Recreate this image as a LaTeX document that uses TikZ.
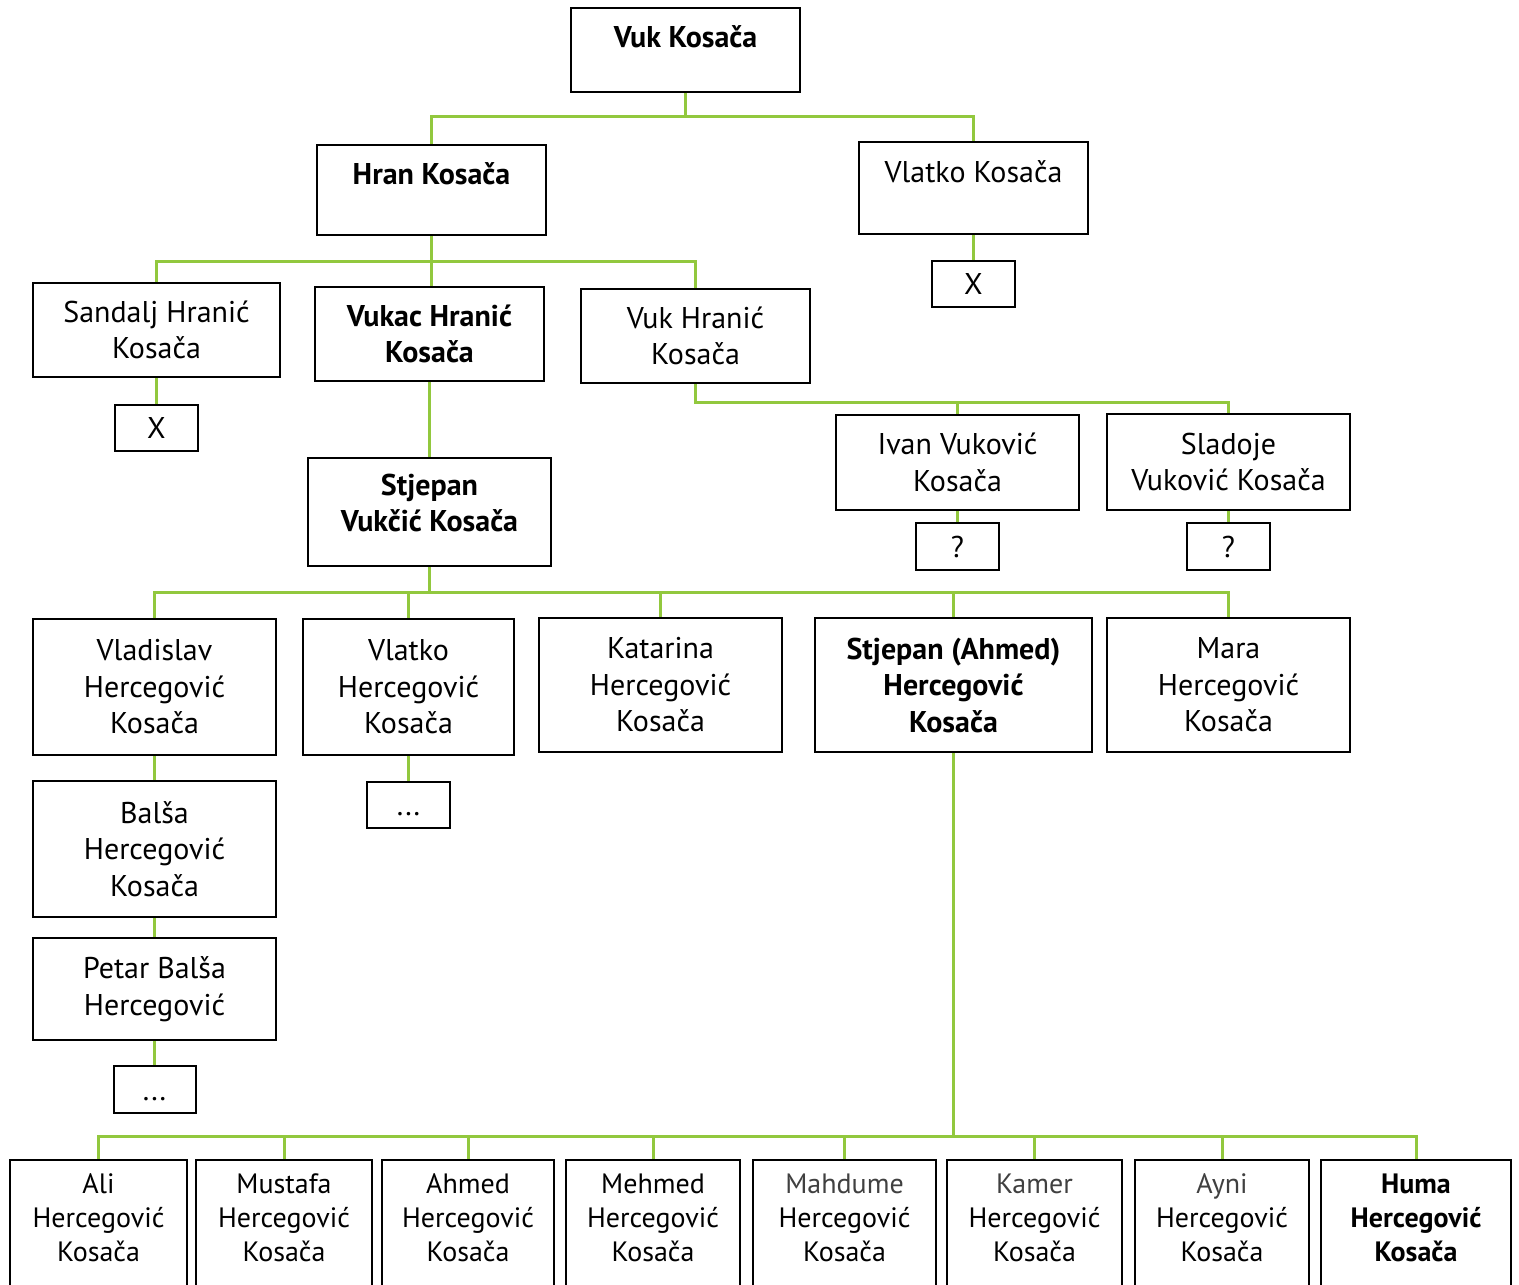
\documentclass[tikz,border=0pt]{standalone}
\usepackage{fontspec}
\setmainfont{PT Sans}
\usetikzlibrary{positioning}
\definecolor{linkgreen}{RGB}{146,200,62}

\begin{document}
\begin{tikzpicture}[x=0.5pt, y=-0.5pt,
    box/.style 2 args={draw, line width=1pt, inner sep=0pt, align=center,
      minimum width=#1*0.5pt, minimum height=#2*0.5pt,
      font=\fontsize{15}{18.25}\selectfont},
    boldbox/.style 2 args={box={#1}{#2}, font=\fontsize{15}{18.25}\selectfont\bfseries},
    kid/.style={box={#1}{150}, font=\fontsize{14}{17}\selectfont},
    dots/.style={text height=10.5pt, text depth=0pt},
    link/.style={draw=linkgreen, line width=1.5pt}]
  \path [use as bounding box, fill=white] (0,0) rectangle (1519,1284);

  % Vuk and his sons
  \node (vuk) [boldbox={229}{84}, text depth=13pt] at (685.5,50) {Vuk Kosača};
  \node (hran) [boldbox={229}{90}, text depth=16pt] at (431.5,190) {Hran Kosača};
  \node (vlatko) [box={229}{92}, text depth=16pt] at (973.5,188) {Vlatko Kosača};
  \node (vlatkox) [box={83}{46}, below=12.5pt of vlatko] {X};

  % Hran's sons
  \node (sandalj) [box={247}{94}] at (156.5,330) {Sandalj Hranić\\Kosača};
  \node (vukac) [boldbox={229}{94}] at (429.5,334) {Vukac Hranić\\Kosača};
  \node (vukhranic) [box={229}{94}] at (695.5,336) {Vuk Hranić\\Kosača};
  \node (sandaljx) [box={83}{46}, below=13pt of sandalj] {X};
  \node (stjepan) [boldbox={243}{108}, below=37.5pt of vukac] {Stjepan\\Vukčić Kosača\\[-9pt]~};
  \node (ivan) [box={243}{95}] at (957.5,462.5) {Ivan Vuković\\Kosača};
  \node (sladoje) [box={243}{96}] at (1228.5,462) {Sladoje\\Vuković Kosača};
  \node (ivanq) [box={83}{47}, below=5.5pt of ivan] {?};
  \node (sladojeq) [box={83}{47}, below=5.5pt of sladoje] {?};

  % Stjepan's children
  \node (vladislav) [box={243}{136}] at (154.5,687) {Vladislav\\Hercegović\\Kosača};
  \node (vlatkohk) [box={211}{136}] at (408.5,687) {Vlatko\\Hercegović\\Kosača};
  \node (katarina) [box={243}{134}] at (660.5,685) {Katarina\\Hercegović\\Kosača};
  \node (ahmed) [boldbox={277}{134}] at (953.5,685) {Stjepan (Ahmed)\\Hercegović\\Kosača};
  \node (mara) [box={243}{134}] at (1228.5,685) {Mara\\Hercegović\\Kosača};
  \node (balsa) [box={243}{136}, below=12pt of vladislav] {Balša\\Hercegović\\Kosača};
  \node (petar) [box={243}{102}, below=9.5pt of balsa] {Petar Balša\\Hercegović};
  \node (petardots) [box={82}{47}, dots, below=12pt of petar] {...};
  \node (vlatkodots) [box={83}{46}, dots, below=12.5pt of vlatkohk] {...};

  % Ahmed's children
  \node (ali) [kid=177] at (98.5,1235) {Ali\\Hercegović\\Kosača\\~};
  \node (mustafa) [kid=176, right=3.5pt of ali] {Mustafa\\Hercegović\\Kosača\\~};
  \node (ahmedh) [kid=172, right=4pt of mustafa] {Ahmed\\Hercegović\\Kosača\\~};
  \node (mehmed) [kid=174, right=5pt of ahmedh] {Mehmed\\Hercegović\\Kosača\\~};
  \node (mahdume) [kid=183, right=5.5pt of mehmed] {{\color{black!75}Mahdume}\\Hercegović\\Kosača\\~};
  \node (kamer) [kid=175, right=4.5pt of mahdume] {{\color{black!75}Kamer}\\Hercegović\\Kosača\\~};
  \node (ayni) [kid=174, right=5.5pt of kamer] {{\color{black!75}Ayni}\\Hercegović\\Kosača\\~};
  \node (huma) [kid=190, right=5pt of ayni, font=\fontsize{14}{17}\selectfont\bfseries] {Huma\\Hercegović\\Kosača\\~};

  \draw [link] (vuk.south) -- ++(0,24) -| (hran.north);
  \draw [link] (vuk.south) -- ++(0,24) -| (vlatko.north);
  \draw [link] (vlatko) -- (vlatkox);

  \draw [link] (hran.south) -- ++(0,25) -| (sandalj.north);
  \draw [link] (hran.south) -- (hran.south |- vukac.north);
  \draw [link] (hran.south) -- ++(0,25) -| (vukhranic.north);
  \draw [link] (sandalj) -- (sandaljx);
  \draw [link] (vukac) -- (stjepan);

  \draw [link] (vukhranic.south) -- ++(0,18) -| (ivan.north);
  \draw [link] (vukhranic.south) -- ++(0,18) -| (sladoje.north);
  \draw [link] (ivan) -- (ivanq);
  \draw [link] (sladoje) -- (sladojeq);

  \draw [link] (stjepan.south) -- ++(0,25) -| (vladislav.north);
  \draw [link] (stjepan.south) -- ++(0,25) -| (vlatkohk.north);
  \draw [link] (stjepan.south) -- ++(0,25) -| (katarina.north);
  \draw [link] (stjepan.south) -- ++(0,25) -| (ahmed.north);
  \draw [link] (stjepan.south) -- ++(0,25) -| (mara.north);
  \draw [link] (vladislav) -- (balsa);
  \draw [link] (balsa) -- (petar);
  \draw [link] (petar) -- (petardots);
  \draw [link] (vlatkohk) -- (vlatkodots);

  \draw [link] (ahmed.south) -- ++(0,383) -| (ali.north);
  \draw [link] (ahmed.south) -- ++(0,383) -| (mustafa.north);
  \draw [link] (ahmed.south) -- ++(0,383) -| (ahmedh.north);
  \draw [link] (ahmed.south) -- ++(0,383) -| (mehmed.north);
  \draw [link] (ahmed.south) -- ++(0,383) -| (mahdume.north);
  \draw [link] (ahmed.south) -- ++(0,383) -| (kamer.north);
  \draw [link] (ahmed.south) -- ++(0,383) -| (ayni.north);
  \draw [link] (ahmed.south) -- ++(0,383) -| (huma.north);
\end{tikzpicture}
\end{document}
